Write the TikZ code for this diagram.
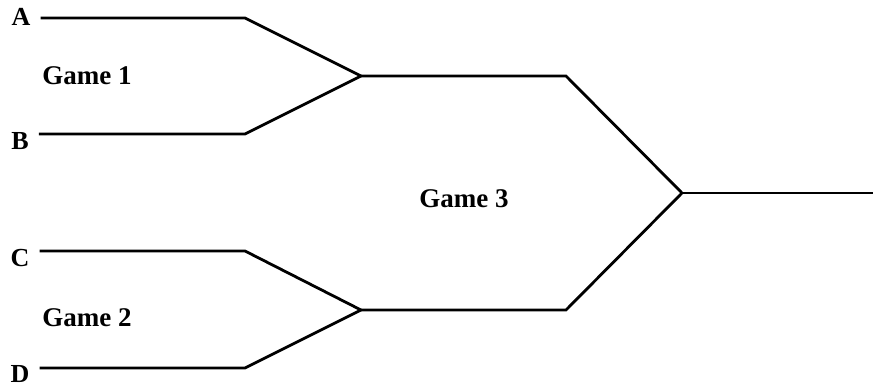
\documentclass[tikz,border=0pt]{standalone}
\usepackage{fontspec}
\setmainfont{Liberation Serif}
\begin{document}
\begin{tikzpicture}[x=1pt,y=-1pt,
  bline/.style={line width=2.8pt,line join=miter,line cap=butt},
  team/.style={font=\fontsize{26}{28}\selectfont\bfseries,inner sep=0pt},
  game/.style={font=\fontsize{27}{30}\selectfont\bfseries,inner sep=0pt}]
\useasboundingbox (0,0) rectangle (873,387);
% team labels
\node[team] (A) at (21,17) {A};
\node[team] (B) at (20,141) {B};
\node[team] (C) at (20,258) {C};
\node[team] (D) at (20,374) {D};
% game labels
\node[game] (g1) at (87,76) {Game 1};
\node[game] (g2) at (87,318) {Game 2};
\node[game] (g3) at (464,199) {Game 3};
% bracket points
\coordinate (a1) at (245,18);
\coordinate (b1) at (245,134);
\coordinate (c1) at (245,251);
\coordinate (d1) at (245,368);
\coordinate (j1) at (361,76);
\coordinate (j2) at (361,310);
\coordinate (k1) at (566,76);
\coordinate (k2) at (566,310);
\coordinate (w) at (682,193);
\coordinate (e) at (873,193);
\draw[bline] ([xshift=10pt]A.east |- a1) -- (a1) -- (j1);
\draw[bline] ([xshift=10pt]B.east |- b1) -- (b1) -- (j1);
\draw[bline] ([xshift=10pt]C.east |- c1) -- (c1) -- (j2);
\draw[bline] ([xshift=10pt]D.east |- d1) -- (d1) -- (j2);
\draw[bline] (j1) -- (k1) -- (w);
\draw[bline] (j2) -- (k2) -- (w);
\draw[bline] (w) -- (e);
\end{tikzpicture}
\end{document}
